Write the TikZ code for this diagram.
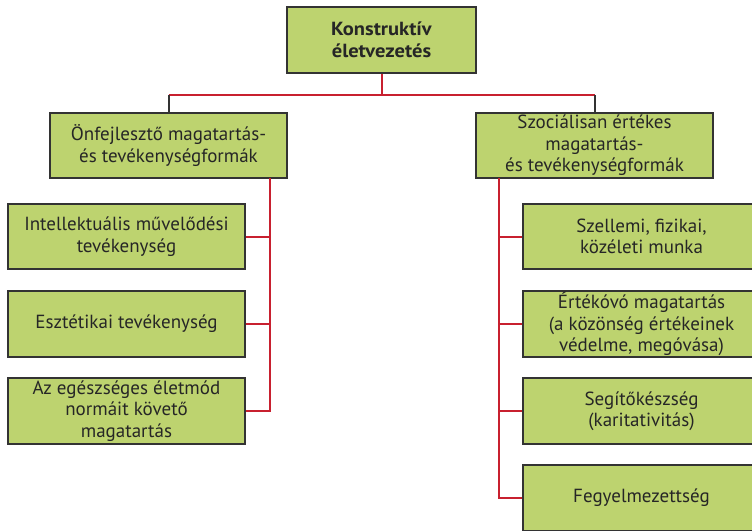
\documentclass[tikz,border=0pt]{standalone}
\usepackage{fontspec}
\setmainfont{PT Sans}
\newfontfamily\headfont[FakeStretch=1.08]{PT Sans Bold}
\definecolor{boxgreen}{HTML}{BDD36F}
\definecolor{boxedge}{HTML}{333333}
\definecolor{linkred}{HTML}{C8202F}
\begin{document}
\begin{tikzpicture}[x=1pt,y=-1pt,
  box/.style={draw=boxedge, fill=boxgreen, line width=1.5pt, align=center,
    inner sep=0pt, font=\fontsize{19}{21.5}\selectfont, text=black!85},
  redlink/.style={draw=linkred, line width=2pt},
  greylink/.style={draw=boxedge, line width=2pt}]
\useasboundingbox (0,0) rectangle (752,530);
\clip (0,0) rectangle (752,530);

% root
\node[box, minimum width=189pt, minimum height=66pt, font=\headfont\fontsize{19}{22}\selectfont]
  (root) at (381.5,40) {Konstruktív\\életvezetés};

% two branches
\node[box, minimum width=237pt, minimum height=65pt] (left) at (168.5,145.5)
  {Önfejlesztő magatartás-\\és tevékenységformák};
\node[box, minimum width=237pt, minimum height=65pt] (right) at (594.5,145.5)
  {Szociálisan értékes\\magatartás-\\és tevékenységformák};

% left children
\node[box, minimum width=237pt, minimum height=65pt] (l1) at (126.5,236.5)
  {Intellektuális művelődési\\tevékenység};
\node[box, minimum width=237pt, minimum height=66pt] (l2) at (126.5,324)
  {Esztétikai tevékenység};
\node[box, minimum width=237pt, minimum height=66pt] (l3) at (126.5,411)
  {Az egészséges életmód\\normáit követő\\magatartás};

% right children
\node[box, minimum width=237pt, minimum height=65pt] (r1) at (641.5,236.5)
  {Szellemi, fizikai,\\közéleti munka};
\node[box, minimum width=237pt, minimum height=66pt] (r2) at (641.5,324)
  {Értékóvó magatartás\\(a közönség értékeinek\\védelme, megóvása)};
\node[box, minimum width=237pt, minimum height=66pt] (r3) at (641.5,411)
  {Segítőkészség\\(karitativitás)};
\node[box, minimum width=237pt, minimum height=66pt] (r4) at (641.5,498)
  {Fegyelmezettség};

% root to branches
\coordinate (bus) at (381.5,95);
\draw[redlink] (root.south) -- (bus);
\draw[redlink] (left.north |- bus) -- (right.north |- bus);
\draw[greylink] (left.north |- bus) -- (left.north);
\draw[greylink] (right.north |- bus) -- (right.north);

% left spine
\coordinate (ls) at (270,178);
\draw[redlink] (ls) -- (ls |- l3.east) -- (l3.east);
\draw[redlink] (l1.east) -- (ls |- l1.east);
\draw[redlink] (l2.east) -- (ls |- l2.east);

% right spine
\coordinate (rs) at (499,178);
\draw[redlink] (rs) -- (rs |- r4.west) -- (r4.west);
\draw[redlink] (r1.west) -- (rs |- r1.west);
\draw[redlink] (r2.west) -- (rs |- r2.west);
\draw[redlink] (r3.west) -- (rs |- r3.west);
\end{tikzpicture}
\end{document}
